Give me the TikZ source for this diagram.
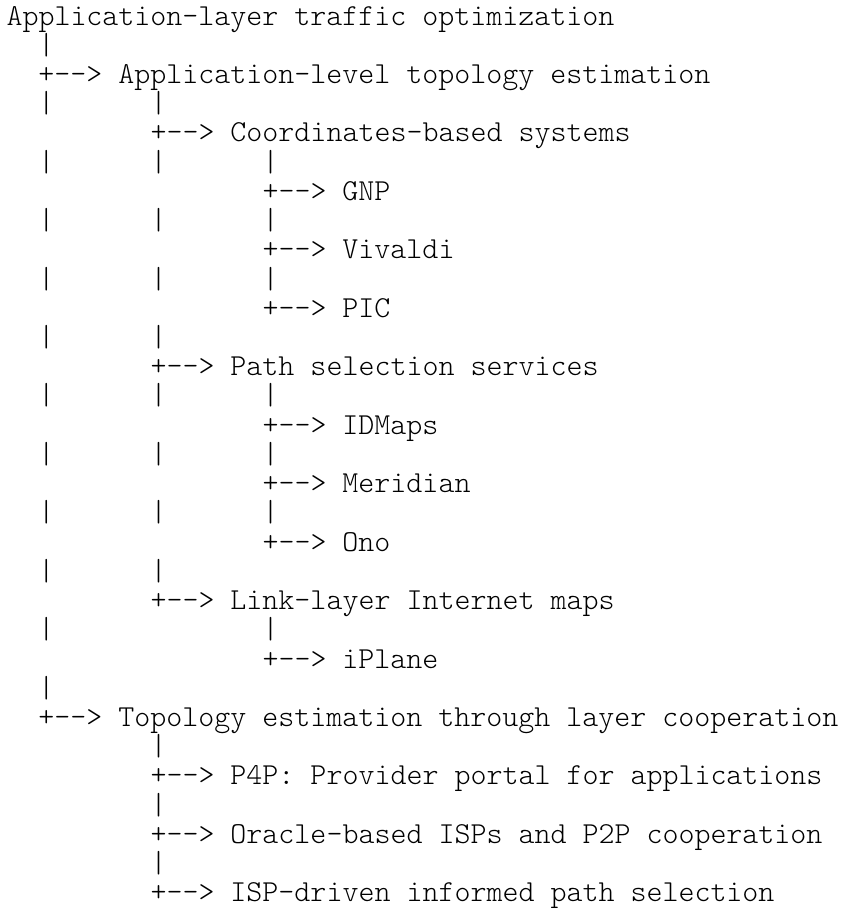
\documentclass[tikz,border=0pt]{standalone}
\usepackage{fontspec}
\setmonofont{Latin Modern Mono Light}
\usepackage{tikz}
\tikzset{
    TX/.style ={anchor=base west, inner sep=0pt, outer sep=0pt, font=\ttfamily\fontsize{15.238pt}{14.6pt}\selectfont},
    PP/.style ={TX}
}

\begin{document}
\begin{tikzpicture}[x=8pt,y=-14.615pt]
        \useasboundingbox (-0.40625,-0.8553) rectangle (52.344,30.277);
        \node[TX] (root) at (0,0) {Application-layer traffic optimization};
        \node[TX] (ale)  at (2,2) {+--> Application-level topology estimation};
        \node[TX] (cbs)  at (9,4) {+--> Coordinates-based systems};
        \node[TX] (gnp)  at (16,6) {+--> GNP};
        \node[TX] (viv)  at (16,8) {+--> Vivaldi};
        \node[TX] (pic)  at (16,10) {+--> PIC};
        \node[TX] (pss)  at (9,12) {+--> Path selection services};
        \node[TX] (idm)  at (16,14) {+--> IDMaps};
        \node[TX] (mer)  at (16,16) {+--> Meridian};
        \node[TX] (ono)  at (16,18) {+--> Ono};
        \node[TX] (lim)  at (9,20) {+--> Link-layer Internet maps};
        \node[TX] (ipl)  at (16,22) {+--> iPlane};
        \node[TX] (tec)  at (2,24) {+--> Topology estimation through layer cooperation};
        \node[TX] (pfp)  at (9,26) {+--> P4P: Provider portal for applications};
        \node[TX] (orc)  at (9,28) {+--> Oracle-based ISPs and P2P cooperation};
        \node[TX] (isp)  at (9,30) {+--> ISP-driven informed path selection};
        \foreach \l in {1,3,5,...,23}{
            \node[PP] (bar-2-\l) at (2,\l) {|};}
        \foreach \l in {3,5,7,9,11,13,15,17,19,25,27,29}{
            \node[PP] (bar-9-\l) at (9,\l) {|};}
        \foreach \l in {5,7,9,13,15,17,21}{
            \node[PP] (bar-16-\l) at (16,\l) {|};}
    \end{tikzpicture}
\end{document}
